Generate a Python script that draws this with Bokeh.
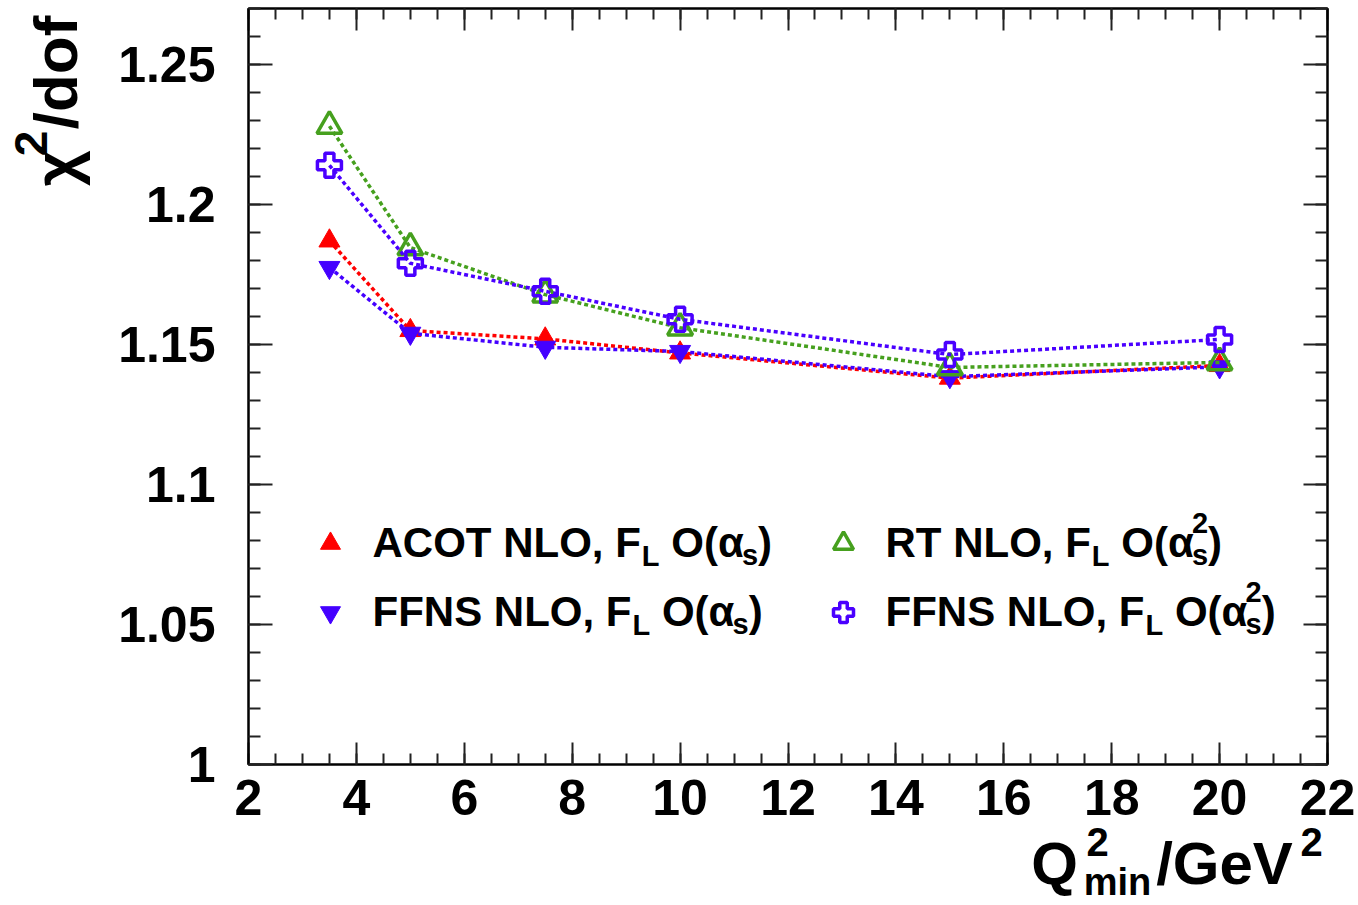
import json
from bokeh.plotting import figure
from bokeh.models import (Label, LinearAxis, SingleIntervalTicker, FixedTicker, CustomJSTickFormatter,
                          Legend, LegendItem, Range1d)
from bokeh.core.properties import value
from bokeh.embed import file_html
from bokeh.resources import INLINE

# ---------------- data ----------------
q2_min = [3.5, 5, 7.5, 10, 15, 20]
acot_nlo_as = [1.187, 1.155, 1.152, 1.147, 1.138, 1.1425]
ffns_nlo_as = [1.1775, 1.154, 1.149, 1.1475, 1.1385, 1.142]
rt_nlo_as2 = [1.228, 1.1846, 1.1678, 1.156, 1.1418, 1.1436]
ffns_nlo_as2 = [1.214, 1.179, 1.169, 1.159, 1.1464, 1.1518]

x_tick_interval = 2
y_tick_interval = 0.05

RED = "#ff0000"
BLUE = "#4400ff"
GREEN = "#46a01e"
PURPLE = "#4a00ff"

FONT = "Liberation Sans"

# ---------------- layout ----------------
W, H = 1358, 905
FL, FR, FT, FB = 248, 1327, 8, 764
XMIN, XMAX = 2, 22
YMIN, YMAX = 1.0, 1.27


def X(px):
    return XMIN + (px - FL) * (XMAX - XMIN) / (FR - FL)


def Y(py):
    return YMIN + (FB - py) * (YMAX - YMIN) / (FB - FT)


p = figure(width=W, height=H, x_range=Range1d(XMIN, XMAX), y_range=Range1d(YMIN, YMAX),
           output_backend="svg", toolbar_location=None,
           min_border_left=FL, min_border_right=W - FR, min_border_top=FT,
           min_border_bottom=H - FB)
p.extra_x_ranges = {"pxx": Range1d(FL, FR)}
p.extra_y_ranges = {"pxy": Range1d(FB, FT)}
p.background_fill_color = "white"
p.border_fill_color = "white"
p.outline_line_color = "black"
p.outline_line_width = 2
p.xgrid.visible = False
p.ygrid.visible = False


def style_axis(ax, ticker, tin, tmin):
    ax.ticker = ticker
    ax.axis_line_width = 2
    ax.axis_line_color = "black"
    ax.major_tick_line_width = 2
    ax.minor_tick_line_width = 2
    ax.major_tick_line_color = "#222222"
    ax.minor_tick_line_color = "#222222"
    ax.major_tick_in = tin
    ax.major_tick_out = 0
    ax.minor_tick_in = tmin
    ax.minor_tick_out = 0


xt = SingleIntervalTicker(interval=x_tick_interval, num_minor_ticks=4)
yt = SingleIntervalTicker(interval=y_tick_interval, num_minor_ticks=5)

xa = p.xaxis[0]
style_axis(xa, xt, 22, 11)
xa.major_label_text_font = FONT
xa.major_label_text_font_style = "bold"
xa.major_label_text_font_size = "50px"
xa.major_label_text_color = "black"
xa.major_label_standoff = 15

ya = p.yaxis[0]
style_axis(ya, yt, 24, 12)
ya.major_label_text_font = FONT
ya.major_label_text_font_style = "bold"
ya.major_label_text_font_size = "50px"
ya.major_label_text_color = "black"
ya.major_label_standoff = 33
ya.formatter = CustomJSTickFormatter(code="return String(parseFloat(tick.toFixed(2)));")

empty = CustomJSTickFormatter(code="return '';")
top_ax = LinearAxis(formatter=empty, major_label_standoff=0, major_label_text_font_size="1px")
style_axis(top_ax, SingleIntervalTicker(interval=x_tick_interval, num_minor_ticks=4), 22, 11)
p.add_layout(top_ax, "above")
right_ax = LinearAxis(formatter=empty, major_label_standoff=0, major_label_text_font_size="1px")
style_axis(right_ax, SingleIntervalTicker(interval=y_tick_interval, num_minor_ticks=5), 24, 12)
p.add_layout(right_ax, "right")


# ------------- axis titles (text carried by label-only axes) -------------
def text_axis(side, pieces, size, standoff, vertical=False):
    mapping = {str(k): v for k, v in pieces}
    fmt = CustomJSTickFormatter(
        code="const m = %s; const k = String(Math.round(tick)); return (k in m) ? m[k] : '';"
        % json.dumps(mapping, ensure_ascii=False))
    kw = dict(x_range_name="pxx") if side == "below" else dict(y_range_name="pxy")
    ax = LinearAxis(ticker=FixedTicker(ticks=[k for k, _ in pieces], minor_ticks=[]),
                    formatter=fmt, major_label_standoff=standoff,
                    axis_line_color=None, major_tick_line_color=None, minor_tick_line_color=None,
                    major_tick_in=0, major_tick_out=0, minor_tick_in=0, minor_tick_out=0,
                    major_label_text_font=FONT, major_label_text_font_style="bold",
                    major_label_text_font_size=f"{size}px", major_label_text_color="black",
                    **kw)
    if vertical:
        ax.major_label_orientation = "vertical"
    p.add_layout(ax, side)


# x title: Q^2_min / GeV^2  (stacked outward from the frame)
text_axis("below", [(1054, "Q"), (1224, "/GeV")], 60, 12)
text_axis("below", [(1117, "min")], 38, -39)
text_axis("below", [(1097, "2"), (1311, "2")], 40, -78)

# y title: chi^2 / dof
text_axis("left", [(168, "χ"), (72, "/dof")], 62, 26, vertical=True)
text_axis("left", [(143, "2")], 46, -29, vertical=True)

# ---------------- series ----------------
DASH = "4 3"
LW = 3.5

p.line(q2_min, acot_nlo_as, line_color=RED, line_width=LW, line_dash=DASH)
r_acot = p.scatter(q2_min, acot_nlo_as, marker="triangle", size=21,
                   fill_color=RED, line_color=RED, line_width=1)

p.line(q2_min, ffns_nlo_as, line_color=BLUE, line_width=LW, line_dash=DASH)
r_ffns1 = p.scatter(q2_min, ffns_nlo_as, marker="inverted_triangle", size=21,
                    fill_color=BLUE, line_color=BLUE, line_width=1)

p.line(q2_min, rt_nlo_as2, line_color=GREEN, line_width=LW, line_dash=DASH)
r_rt = p.scatter(q2_min, rt_nlo_as2, marker="triangle", size=25,
                 fill_color=None, line_color=GREEN, line_width=3.5)

p.line(q2_min, ffns_nlo_as2, line_color=PURPLE, line_width=LW, line_dash=DASH)
r_ffns2 = p.scatter(q2_min, ffns_nlo_as2, marker="plus", size=24,
                    fill_color=None, line_color=PURPLE, line_width=3.5)

legend = Legend(items=[
    LegendItem(label=value(" "), renderers=[r_acot]),
    LegendItem(label=value(" "), renderers=[r_ffns1]),
    LegendItem(label=value(" "), renderers=[r_rt]),
    LegendItem(label=value(" "), renderers=[r_ffns2]),
], ncols=2, location=(57, 127), glyph_width=50, glyph_height=50, spacing=19,
    label_standoff=0, label_width=444, padding=0, margin=0,
    border_line_color=None, background_fill_alpha=0, label_text_font_size="10px")
p.add_layout(legend)

# ---------------- legend texts ----------------
CW = {" ": 278, "(": 333, ")": 333, ",": 278, "/": 278, "2": 556, "A": 722, "C": 722,
      "F": 611, "G": 778, "L": 611, "N": 722, "O": 778, "Q": 778, "R": 722, "S": 667,
      "T": 611, "V": 667, "d": 611, "e": 556, "f": 333, "i": 278, "m": 889, "n": 611,
      "o": 611, "s": 556, "α": 620, "χ": 556}


def tw(s, size):
    return sum(CW.get(c, 556) for c in s) * size / 1000.0


def put(px, py, text, size):
    p.add_layout(Label(x=X(px), y=Y(py), text=text, x_units="data", y_units="data",
                       text_font=FONT, text_font_style="bold", text_font_size=f"{size}px",
                       text_color="black", text_align="left", text_baseline="alphabetic"))


def legend_text(px, base, main, squared):
    big, small = 42, 29
    x = px
    put(x, base, main, big); x += tw(main, big)
    put(x + 1, base + 13, "L", small); x += tw("L", small) + 1
    x += tw(" ", big)
    put(x, base, "O(", big); x += tw("O(", big)
    put(x, base, "α", big); x += tw("α", big) - 2
    if squared:
        put(x, base - 20, "2", small)
    put(x, base + 12, "s", small)
    x += max(tw("s", small), tw("2", small) if squared else 0)
    put(x, base, ")", big)


legend_text(372, 542, "ACOT NLO, F", False)
legend_text(885, 542, "RT NLO, F", True)
legend_text(372, 611, "FFNS NLO, F", False)
legend_text(885, 611, "FFNS NLO, F", True)

open("out.html", "w").write(file_html(p, INLINE))
